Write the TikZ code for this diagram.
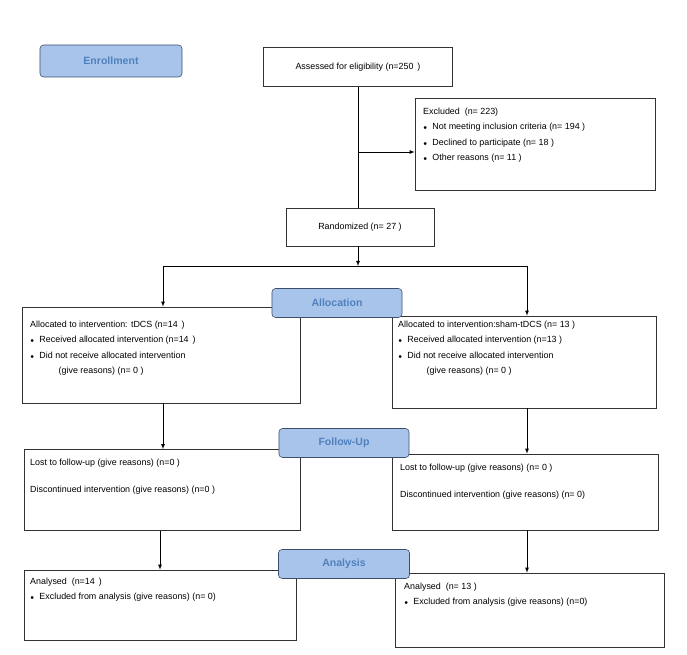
\documentclass[tikz,border=0pt]{standalone}
\usepackage{fontspec}
\setmainfont{Liberation Sans}
\usepackage{xcolor}
\definecolor{stage-fill}{RGB}{169,196,235}
\definecolor{stage-line}{RGB}{60,80,110}
\definecolor{stage-text}{RGB}{79,129,189}
\usetikzlibrary{positioning}

\begin{document}
\begin{tikzpicture}[
    x=0.03cm, y=-0.03cm,
    every node/.style={inner sep=0pt},
    box/.style={draw=black!80, line width=0.5pt, fill=white},
    stage/.style={draw=stage-line, line width=0.5pt, fill=stage-fill, rounded corners=3pt,
        font=\fontsize{9}{11}\selectfont\bfseries, text=stage-text},
    txt/.style={font=\fontsize{7.6}{13}\selectfont, anchor=north west, align=left},
    arr/.style={-latex, line width=0.5pt}
]

% Canvas
\useasboundingbox (0,0) rectangle (687,655);

% Stage labels
\node[stage, minimum width=4.26cm, minimum height=0.96cm] (enrol) at (111,61) {Enrollment};

% Enrollment column
\node[box, minimum width=5.67cm, minimum height=1.17cm] (assess) at (358,67) {};
\node[txt, anchor=center] at (assess) {Assessed for eligibility (n=250 \,)};
\node[box, minimum width=7.2cm, minimum height=2.76cm] (excl) at (535,144) {};
\node[txt] at (423,108) {Excluded \ (n= 223)\\
$\scriptscriptstyle\bullet$ \ Not meeting inclusion criteria (n= 194 )\\
$\scriptscriptstyle\bullet$ \ Declined to participate (n= 18 )\\
$\scriptscriptstyle\bullet$ \ Other reasons (n= 11 )};
\node[box, minimum width=4.44cm, minimum height=1.14cm] (rand) at (360,227) {};
\node[txt, anchor=center] at (rand) {Randomized (n= 27 )};

\coordinate (branch) at (358,152);
\coordinate (split) at (358,266);
\coordinate (splitL) at (163,266);
\coordinate (splitR) at (527,266);
\coordinate (colL) at (160,0);
\draw[line width=0.5pt] (assess.south -| branch) -- (rand.north -| branch);
\draw[arr] (branch) -- (branch -| excl.west);
\draw[arr] (rand.south -| split) -- (split);
\draw[line width=0.5pt] (splitL) -- (splitR);

% Allocation
\node[box, minimum width=8.34cm, minimum height=2.88cm] (allocL) at (161,355) {};
\node[box, minimum width=7.92cm, minimum height=2.76cm] (allocR) at (524,362) {};
\draw[arr] (splitL) -- (allocL.north -| splitL);
\draw[arr] (splitR) -- (allocR.north -| splitR);
\node[stage, minimum width=3.9cm, minimum height=0.87cm] (alloc) at (337,303) {Allocation};
\node[txt] at (30,321) {Allocated to intervention: tDCS (n=14 \,)\\
$\scriptscriptstyle\bullet$ \ Received allocated intervention (n=14 \,)\\
$\scriptscriptstyle\bullet$ \ Did not receive allocated intervention\\
\hspace{3.2em}(give reasons) (n= 0 )};
\node[txt] at (398,321) {Allocated to intervention:sham-tDCS (n= 13 )\\
$\scriptscriptstyle\bullet$ \ Received allocated intervention (n=13 )\\
$\scriptscriptstyle\bullet$ \ Did not receive allocated intervention\\
\hspace{3.2em}(give reasons) (n= 0 )};

% Follow-Up
\node[box, minimum width=8.28cm, minimum height=2.43cm] (followL) at (162,490) {};
\node[box, minimum width=7.98cm, minimum height=2.28cm] (followR) at (525,492) {};
\draw[arr] (allocL.south -| splitL) -- (followL.north -| splitL);
\draw[arr] (allocR.south -| splitR) -- (followR.north -| splitR);
\node[stage, minimum width=3.9cm, minimum height=0.87cm] (follow) at (344,443) {Follow-Up};
\node[txt, font=\fontsize{7.6}{23}\selectfont] at (30,459) {Lost to follow-up (give reasons) (n=0 )\\
Discontinued intervention (give reasons) (n=0 )};
\node[txt, font=\fontsize{7.6}{23}\selectfont] at (400,464) {Lost to follow-up (give reasons) (n= 0 )\\
Discontinued intervention (give reasons) (n= 0)};

% Analysis
\node[box, minimum width=8.16cm, minimum height=2.1cm] (analL) at (160,605) {};
\node[box, minimum width=8.07cm, minimum height=2.22cm] (analR) at (530,610) {};
\draw[arr] (followL.south -| colL) -- (analL.north -| colL);
\draw[arr] (followR.south -| splitR) -- (analR.north -| splitR);
\node[stage, minimum width=3.93cm, minimum height=0.87cm] (anal) at (344,564) {Analysis};
\node[txt] at (30,578) {Analysed \ (n=14 \,)\\
$\scriptscriptstyle\bullet$ \ Excluded from analysis (give reasons) (n= 0)};
\node[txt] at (404,583) {Analysed \ (n= 13 )\\
$\scriptscriptstyle\bullet$ \ Excluded from analysis (give reasons) (n=0)};

\end{tikzpicture}
\end{document}
